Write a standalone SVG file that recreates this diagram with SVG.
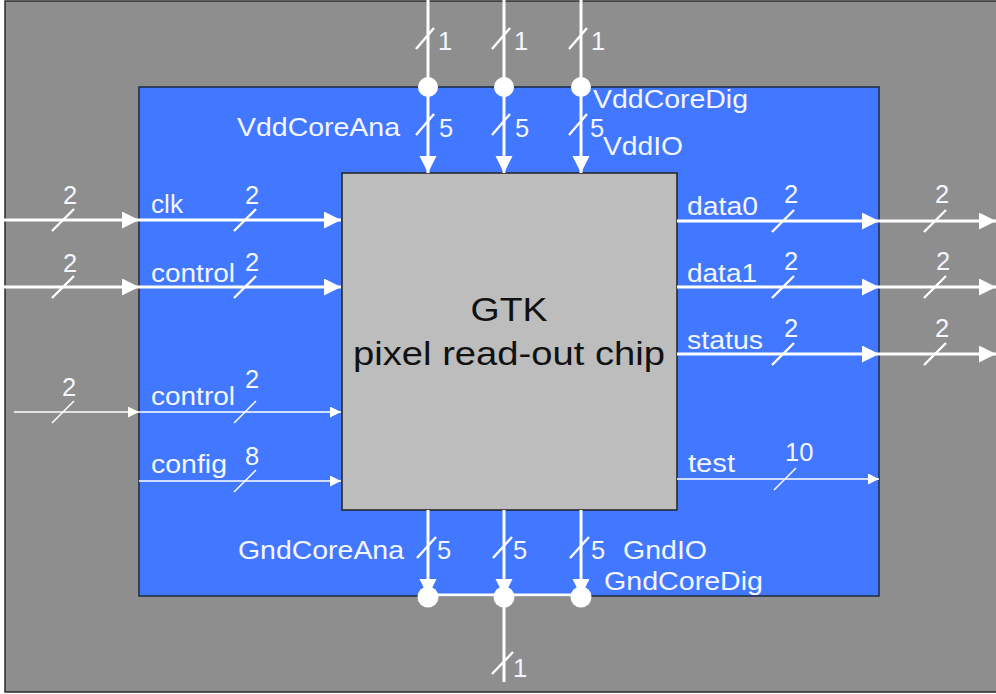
<svg xmlns="http://www.w3.org/2000/svg" width="996" height="694" viewBox="0 0 996 694">
<style>
.lbl{font-family:"Liberation Sans",Arial,Helvetica,sans-serif;font-size:25px;fill:#f4f6ff}
.num{font-family:"Liberation Sans",Arial,Helvetica,sans-serif;font-size:25.5px;fill:#f4f6ff}
.title{font-family:"Liberation Sans",Arial,Helvetica,sans-serif;font-size:34px;fill:#111;text-anchor:middle}
.thick{stroke:#fff;stroke-width:3;fill:none}
.thin{stroke:#fff;stroke-width:1.5;fill:none}
.sl{stroke:#fff;stroke-width:2.4;fill:none}
.dot{fill:#fff}
</style>
<defs>
<marker id="ah" markerUnits="userSpaceOnUse" markerWidth="18" markerHeight="18" refX="17" refY="8.5" orient="auto" viewBox="0 0 18 18">
<path d="M0,0 L17,8.5 L0,17 Z" fill="#fff"/>
</marker>
<marker id="ahs" markerUnits="userSpaceOnUse" markerWidth="12" markerHeight="12" refX="11" refY="5.5" orient="auto" viewBox="0 0 12 12">
<path d="M0,0 L11,5.5 L0,11 Z" fill="#fff"/>
</marker>
</defs>

<g id="system">
<rect x="5" y="1" width="1000" height="691" fill="#8e8e8e" stroke="#2a2a2a" stroke-width="1.5"/>
</g>
<g id="board">
<rect x="139" y="87" width="740" height="509" fill="#4178ff" stroke="#1e2a40" stroke-width="1.5"/>
</g>
<g id="chip">
<rect x="342" y="173" width="335" height="337" fill="#bdbdbd" stroke="#222" stroke-width="1.5"/>
<text class="title" x="509" y="321" textLength="77" lengthAdjust="spacingAndGlyphs">GTK</text>
<text class="title" x="509" y="365" textLength="312" lengthAdjust="spacingAndGlyphs">pixel read-out chip</text>
</g>

<g id="connectors">
<!-- top supply lines -->
<line class="thick" x1="428" y1="0" x2="428" y2="173" marker-end="url(#ah)"/>
<line class="thick" x1="504" y1="0" x2="504" y2="173" marker-end="url(#ah)"/>
<line class="thick" x1="581" y1="0" x2="581" y2="173" marker-end="url(#ah)"/>
<circle class="dot" cx="428" cy="87" r="10"/>
<circle class="dot" cx="504" cy="87" r="10"/>
<circle class="dot" cx="581" cy="87" r="10"/>
<path class="sl" d="M416,49 L434,28 M492,49 L510,28 M569,49 L587,28"/>
<path class="sl" d="M416,135 L434,114 M492,135 L510,114 M569,135 L587,114"/>
<text class="num" x="438" y="50">1</text>
<text class="num" x="514" y="50">1</text>
<text class="num" x="591" y="50">1</text>
<text class="num" x="439" y="137">5</text>
<text class="num" x="515" y="137">5</text>
<text class="num" x="590" y="137">5</text>
<text class="lbl" x="237" y="136" textLength="163" lengthAdjust="spacingAndGlyphs">VddCoreAna</text>
<text class="lbl" x="593" y="108" textLength="155" lengthAdjust="spacingAndGlyphs">VddCoreDig</text>
<text class="lbl" x="603" y="155" textLength="80" lengthAdjust="spacingAndGlyphs">VddIO</text>

<!-- bottom ground lines -->
<line class="thick" x1="428" y1="510" x2="428" y2="596" marker-end="url(#ah)"/>
<line class="thick" x1="504" y1="510" x2="504" y2="596" marker-end="url(#ah)"/>
<line class="thick" x1="581" y1="510" x2="581" y2="596" marker-end="url(#ah)"/>
<line class="thick" x1="428" y1="595" x2="581" y2="595"/>
<line class="thick" x1="504" y1="595" x2="504" y2="682"/>
<circle class="dot" cx="428" cy="597" r="10.5"/>
<circle class="dot" cx="504" cy="597" r="10.5"/>
<circle class="dot" cx="581" cy="597" r="10.5"/>
<path class="sl" d="M417,558 L436,537 M493,558 L512,537 M570,558 L589,537"/>
<path class="sl" d="M492,674 L513,652"/>
<text class="num" x="437" y="559">5</text>
<text class="num" x="513" y="559">5</text>
<text class="num" x="591" y="559">5</text>
<text class="num" x="513" y="677">1</text>
<text class="lbl" x="238" y="559" textLength="166" lengthAdjust="spacingAndGlyphs">GndCoreAna</text>
<text class="lbl" x="623" y="559" textLength="84" lengthAdjust="spacingAndGlyphs">GndIO</text>
<text class="lbl" x="604" y="590" textLength="159" lengthAdjust="spacingAndGlyphs">GndCoreDig</text>

<!-- left inputs -->
<line class="thick" x1="0" y1="220" x2="139" y2="220" marker-end="url(#ah)"/>
<line class="thick" x1="139" y1="220" x2="341" y2="220" marker-end="url(#ah)"/>
<line class="thick" x1="0" y1="287" x2="139" y2="287" marker-end="url(#ah)"/>
<line class="thick" x1="139" y1="287" x2="341" y2="287" marker-end="url(#ah)"/>
<line class="thin" x1="14" y1="412" x2="139" y2="412" marker-end="url(#ahs)"/>
<line class="thin" x1="139" y1="412" x2="341" y2="412" marker-end="url(#ahs)"/>
<line class="thin" x1="139" y1="481" x2="341" y2="481" marker-end="url(#ahs)"/>
<path class="sl" d="M52,231 L74,209 M234,231 L256,209 M52,298 L74,276 M234,298 L256,276"/>
<path class="thin" d="M52,423 L74,401 M234,423 L256,401 M234,492 L256,470"/>
<text class="num" x="63" y="204">2</text>
<text class="num" x="245" y="204">2</text>
<text class="num" x="63" y="272">2</text>
<text class="num" x="245" y="271">2</text>
<text class="num" x="62" y="396">2</text>
<text class="num" x="245" y="388">2</text>
<text class="num" x="245" y="465">8</text>
<text class="lbl" x="151" y="213" textLength="32" lengthAdjust="spacingAndGlyphs">clk</text>
<text class="lbl" x="151" y="282" textLength="84" lengthAdjust="spacingAndGlyphs">control</text>
<text class="lbl" x="151" y="405" textLength="84" lengthAdjust="spacingAndGlyphs">control</text>
<text class="lbl" x="151" y="473" textLength="76" lengthAdjust="spacingAndGlyphs">config</text>

<!-- right outputs -->
<line class="thick" x1="677" y1="221" x2="879" y2="221" marker-end="url(#ah)"/>
<line class="thick" x1="879" y1="221" x2="996" y2="221" marker-end="url(#ah)"/>
<line class="thick" x1="677" y1="287" x2="879" y2="287" marker-end="url(#ah)"/>
<line class="thick" x1="879" y1="287" x2="996" y2="287" marker-end="url(#ah)"/>
<line class="thick" x1="677" y1="354" x2="879" y2="354" marker-end="url(#ah)"/>
<line class="thick" x1="879" y1="354" x2="996" y2="354" marker-end="url(#ah)"/>
<line class="thin" x1="677" y1="479" x2="879" y2="479" marker-end="url(#ahs)"/>
<path class="sl" d="M772,232 L794,210 M924,232 L946,210 M772,298 L794,276 M924,298 L946,276 M772,365 L794,343 M924,365 L946,343"/>
<path class="thin" d="M774,490 L796,468"/>
<text class="num" x="784" y="203">2</text>
<text class="num" x="935" y="203">2</text>
<text class="num" x="784" y="270">2</text>
<text class="num" x="936" y="270">2</text>
<text class="num" x="784" y="337">2</text>
<text class="num" x="935" y="337">2</text>
<text class="num" x="785" y="461">10</text>
<text class="lbl" x="687" y="215" textLength="71" lengthAdjust="spacingAndGlyphs">data0</text>
<text class="lbl" x="687" y="282" textLength="70" lengthAdjust="spacingAndGlyphs">data1</text>
<text class="lbl" x="687" y="349" textLength="76" lengthAdjust="spacingAndGlyphs">status</text>
<text class="lbl" x="688" y="472" textLength="47" lengthAdjust="spacingAndGlyphs">test</text>
</g>
</svg>
